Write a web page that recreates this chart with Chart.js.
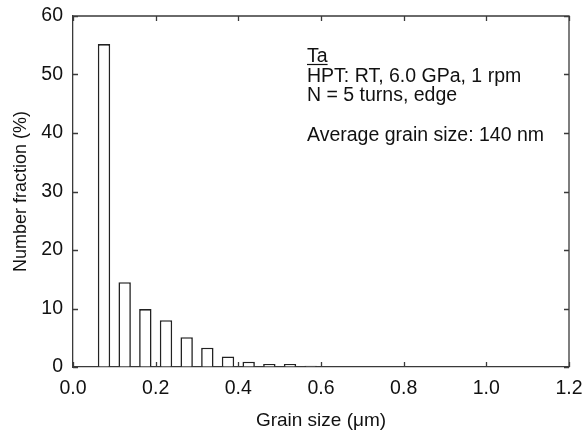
<!DOCTYPE html>
<html>
<head>
<meta charset="utf-8">
<script src="https://cdn.jsdelivr.net/npm/chart.js@4"></script>
<style>
  html, body { margin: 0; padding: 0; background: #fff; }
  #wrap { width: 584px; height: 439px; position: relative; }
</style>
</head>
<body>
<div id="wrap"><canvas id="c" width="584" height="439"></canvas></div>
<script>
// Data
const binCenters = [0.075, 0.125, 0.175, 0.225, 0.275, 0.325, 0.375, 0.425, 0.475, 0.525, 0.575];
const fractions  = [55.2, 14.5, 9.9, 8.0, 5.1, 3.3, 1.8, 0.9, 0.5, 0.5, 0.2];
const xTickValues = [0, 0.2, 0.4, 0.6, 0.8, 1.0, 1.2];
const yTickValues = [0, 10, 20, 30, 40, 50, 60];
const annotationLines = ["Ta", "HPT: RT, 6.0 GPa, 1 rpm", "N = 5 turns, edge", "", "Average grain size: 140 nm"];
const xTitle = "Grain size (\u03bcm)";
const yTitle = "Number fraction (%)";

const FONT = "'Liberation Sans', Arial, sans-serif";
const AXIS_COLOR = '#3a3a3a';
const TEXT_COLOR = '#111';

const innerTicks = {
  id: 'innerTicks',
  afterDraw(chart) {
    const ctx = chart.ctx, a = chart.chartArea;
    const xs = chart.scales.x, ys = chart.scales.y;
    const L = 5;
    ctx.save();
    ctx.strokeStyle = AXIS_COLOR;
    ctx.lineWidth = 1.3;
    ctx.beginPath();
    ctx.moveTo(a.left, a.top); ctx.lineTo(a.right, a.top); ctx.lineTo(a.right, a.bottom);
    xTickValues.forEach(v => {
      const px = Math.round(xs.getPixelForValue(v)) + 0.5;
      ctx.moveTo(px, a.bottom); ctx.lineTo(px, a.bottom - L);
      ctx.moveTo(px, a.top); ctx.lineTo(px, a.top + L);
    });
    yTickValues.forEach(v => {
      const py = Math.round(ys.getPixelForValue(v)) + 0.5;
      ctx.moveTo(a.left, py); ctx.lineTo(a.left + L, py);
      ctx.moveTo(a.right, py); ctx.lineTo(a.right - L, py);
    });
    ctx.stroke();
    ctx.restore();
  }
};

const annotation = {
  id: 'annotation',
  afterDraw(chart) {
    const ctx = chart.ctx;
    ctx.save();
    ctx.fillStyle = TEXT_COLOR;
    ctx.font = "19.5px " + FONT;
    ctx.textBaseline = 'alphabetic';
    ctx.textAlign = 'left';
    const x0 = 307, y0 = 62, lh = 19.7;
    annotationLines.forEach((t, i) => {
      if (t) ctx.fillText(t, x0, y0 + i * lh);
    });
    const w = ctx.measureText(annotationLines[0]).width;
    ctx.strokeStyle = TEXT_COLOR;
    ctx.lineWidth = 1.2;
    ctx.beginPath();
    ctx.moveTo(x0, y0 + 2.5); ctx.lineTo(x0 + w, y0 + 2.5);
    ctx.stroke();
    ctx.restore();
  }
};

new Chart(document.getElementById('c'), {
  type: 'bar',
  data: {
    datasets: [{
      data: binCenters.map((x, i) => ({ x: x, y: fractions[i] })),
      backgroundColor: '#ffffff',
      borderColor: '#222222',
      borderWidth: 1.6,
      borderSkipped: 'bottom',
      barPercentage: 0.6,
      categoryPercentage: 1.0
    }]
  },
  options: {
    responsive: false,
    animation: false,
    devicePixelRatio: 1,
    layout: { padding: { left: 0, right: 15, top: 16, bottom: 0 } },
    plugins: { legend: { display: false }, tooltip: { enabled: false } },
    scales: {
      x: {
        type: 'linear',
        min: 0, max: 1.2,
        offset: false,
        afterBuildTicks(s) { s.ticks = xTickValues.map(v => ({ value: v })); },
        afterFit(s) { s.height = 72; s.paddingLeft = 0; s.paddingRight = 0; },
        ticks: {
          color: TEXT_COLOR,
          font: { family: FONT, size: 19.5 },
          padding: 10,
          maxRotation: 0,
          callback: v => Number(v).toFixed(1)
        },
        grid: { display: true, drawOnChartArea: false, drawTicks: false },
        border: { display: true, color: AXIS_COLOR, width: 1.3 },
        title: {
          display: true, text: xTitle, color: TEXT_COLOR,
          font: { family: FONT, size: 19 },
          padding: { top: 0, bottom: 7 }
        }
      },
      y: {
        min: 0, max: 60,
        afterBuildTicks(s) { s.ticks = yTickValues.map(v => ({ value: v })); },
        afterFit(s) { s.width = 73; s.paddingTop = 0; s.paddingBottom = 0; },
        ticks: {
          color: TEXT_COLOR,
          font: { family: FONT, size: 19.5 },
          padding: 10
        },
        grid: { display: true, drawOnChartArea: false, drawTicks: false },
        border: { display: true, color: AXIS_COLOR, width: 1.3 },
        title: {
          display: true, text: yTitle, color: TEXT_COLOR,
          font: { family: FONT, size: 18 },
          padding: { top: 10, bottom: 0 }
        }
      }
    }
  },
  plugins: [innerTicks, annotation]
});
</script>
</body>
</html>
